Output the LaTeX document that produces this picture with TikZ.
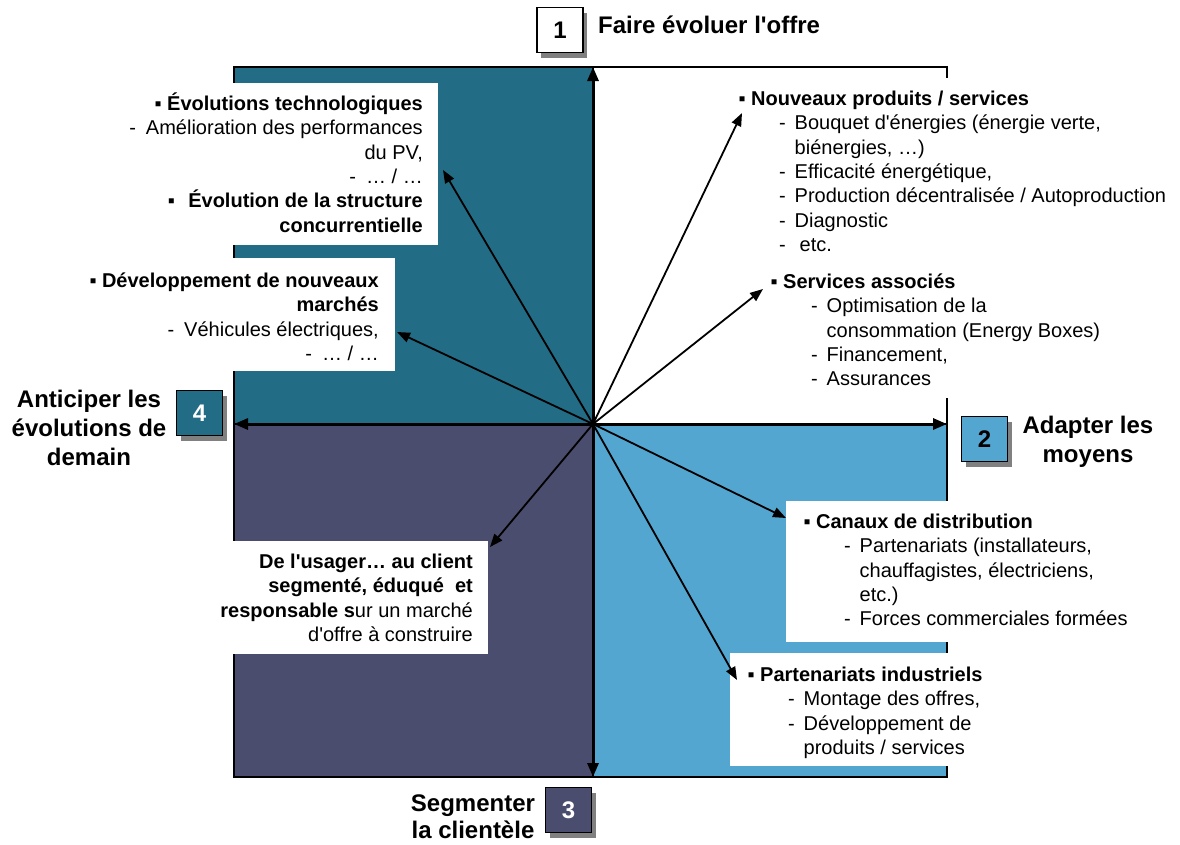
\documentclass[tikz,border=0pt]{standalone}
\usepackage{fontspec}
\setmainfont{Liberation Sans}[Ligatures=TeXOff]
\usetikzlibrary{arrows.meta,shadows}
\definecolor{tealq}{HTML}{236C86}
\definecolor{slateq}{HTML}{4B4D6F}
\definecolor{skyq}{HTML}{53A6D0}
\newcommand\bul{\makebox[6pt][c]{▪}}
\newcommand\dl[1]{\hspace*{40pt}\makebox[15.5pt][l]{-}#1}
\newcommand\cl[1]{\hspace*{55.5pt}#1}
\newcommand\st{\rule{0pt}{20pt}}
\newcommand\tst{\rule{0pt}{22pt}}
\tikzset{
  body/.style={font=\fontsize{20}{24.4}\selectfont, inner sep=0pt},
  ttl/.style={font=\fontsize{24}{29}\selectfont\bfseries, inner sep=0pt, align=center},
  quad/.style={draw=black, line width=1.5pt},
  wbox/.style={fill=white},
  axis/.style={line width=3pt, -{Triangle[length=14pt,width=11pt]}},
  ray/.style={line width=1.8pt, -{Triangle[length=13pt,width=10pt]}},
  numbox/.style={draw=black, line width=1.5pt, minimum width=46pt, minimum height=45pt,
    inner sep=0pt, font=\fontsize{24}{28}\selectfont\bfseries,
    drop shadow={shadow xshift=4pt, shadow yshift=-5pt, fill=black!50, opacity=1}}
}
\begin{document}
\begin{tikzpicture}[x=1pt,y=-1pt]
\useasboundingbox (0,0) rectangle (1180,844);
% quadrants
\path[quad, fill=tealq] (234,67) rectangle (593,424);
\path[quad, fill=white] (593,67) rectangle (947,424);
\path[quad, fill=skyq] (593,424) rectangle (947,777);
\path[quad, fill=slateq] (234,424) rectangle (593,777);
% white text backgrounds
\fill[wbox] (110,83) rectangle (438,245);
\fill[wbox] (60,258) rectangle (395,371);
\fill[wbox] (735,78) rectangle (1178,262);
\fill[wbox] (765,262) rectangle (1178,398);
\fill[wbox] (786,501) rectangle (1178,642);
\fill[wbox] (730,653) rectangle (1178,766);
\fill[wbox] (200,541) rectangle (488,654);
% axes
\coordinate (O) at (593,424);
\coordinate (axT) at (593,67);
\coordinate (axB) at (593,777);
\coordinate (axL) at (234,424);
\coordinate (axR) at (947,424);
\draw[axis] (O) -- (axT);
\draw[axis] (O) -- (axB);
\draw[axis] (O) -- (axL);
\draw[axis] (O) -- (axR);
% rays
\coordinate (tipA) at (443,170);
\coordinate (tipB) at (397,332);
\coordinate (tipC) at (742,113);
\coordinate (tipD) at (763,289);
\coordinate (tipE) at (786,518);
\coordinate (tipF) at (737,680);
\coordinate (tipG) at (490,547);
\foreach \t in {tipA,tipB,tipC,tipD,tipE,tipF,tipG} \draw[ray] (O) -- (\t);
% text blocks
\node[body, align=right, anchor=north east] (tA) at (423,90) {%
\textbf{\st\bul\hspace{6pt}Évolutions technologiques}\\
-\hspace{10pt}Amélioration des performances\\
du PV,\\
-\hspace{10pt}… / …\\
\textbf{\bul\hspace{14pt}Évolution de la structure}\\
\textbf{concurrentielle}};
\node[body, align=right, anchor=north east] (tB) at (379,267) {%
\textbf{\st\bul\hspace{6pt}Développement de nouveaux}\\
\textbf{marchés}\\
-\hspace{10pt}Véhicules électriques,\\
-\hspace{10pt}… / …};
\node[body, align=right, anchor=north east] (tG) at (473,548) {%
\textbf{\st De l'usager… au client}\\
\textbf{segmenté, éduqué\ \ et}\\
\textbf{responsable s}ur un marché\\
d'offre à construire};
\node[body, align=left, anchor=north west] (tC) at (739,85) {%
\textbf{\st\bul\hspace{6pt}Nouveaux produits / services}\\
\dl{Bouquet d'énergies (énergie verte,}\\
\cl{biénergies, …)}\\
\dl{Efficacité énergétique,}\\
\dl{Production décentralisée / Autoproduction}\\
\dl{Diagnostic}\\
\dl{\hspace{5pt}etc.}};
\node[body, align=left, anchor=north west] (tD) at (771,268) {%
\textbf{\st\bul\hspace{6pt}Services associés}\\
\dl{Optimisation de la}\\
\cl{consommation (Energy Boxes)}\\
\dl{Financement,}\\
\dl{Assurances}};
\node[body, align=left, anchor=north west] (tE) at (804,508) {%
\textbf{\st\bul\hspace{6pt}Canaux de distribution}\\
\dl{Partenariats (installateurs,}\\
\cl{chauffagistes, électriciens,}\\
\cl{etc.)}\\
\dl{Forces commerciales formées}};
\node[body, align=left, anchor=north west] (tF) at (748,661) {%
\textbf{\st\bul\hspace{6pt}Partenariats industriels}\\
\dl{Montage des offres,}\\
\dl{Développement de}\\
\cl{produits / services}};
% number boxes
\node[numbox, fill=white] (n1) at (560,30) {1};
\node[numbox, fill=skyq] (n2) at (984.5,439) {2};
\node[numbox, fill=slateq, text=white] (n3) at (568.5,810) {3};
\node[numbox, fill=tealq, text=white] (n4) at (199.5,413) {4};
% titles
\node[ttl, anchor=base west] (t1) at (598,33) {Faire évoluer l'offre};
\node[ttl, anchor=north] (t2) at (1088,411) {\tst Adapter les\\moyens};
\node[ttl, anchor=north] (t4) at (89,385) {\tst Anticiper les\\évolutions de\\demain};
\node[ttl, anchor=north, font=\fontsize{24}{27}\selectfont\bfseries] (t3) at (473,789) {\tst Segmenter\\la clientèle};
\end{tikzpicture}
\end{document}
